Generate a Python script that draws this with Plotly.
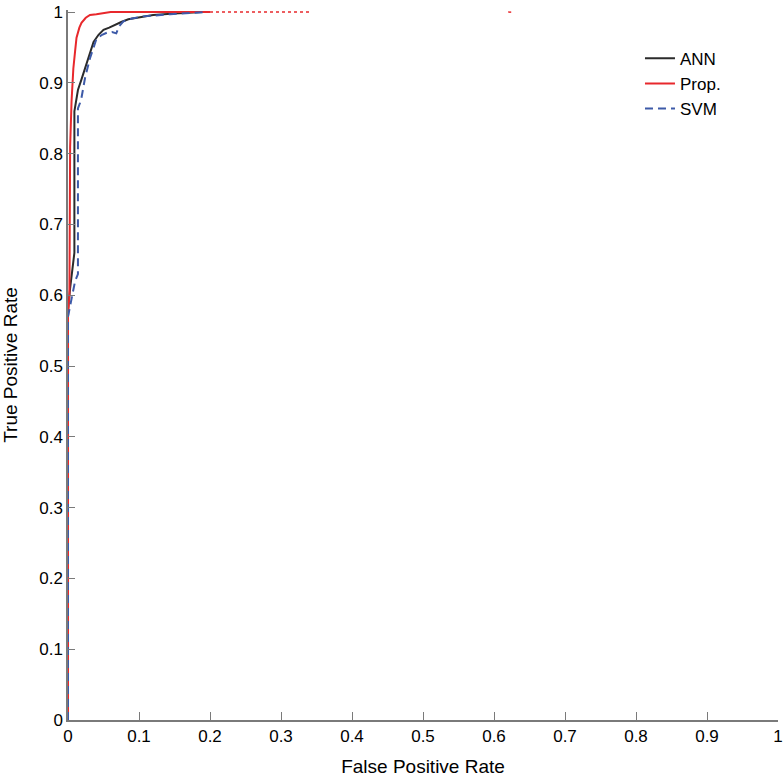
import plotly.graph_objects as go

# ROC curve data
ann_fpr = [0, 0, 0.003, 0.006, 0.009, 0.009, 0.011, 0.014, 0.019, 0.022, 0.027, 0.031, 0.036,
           0.043, 0.05, 0.058, 0.064, 0.075, 0.085, 0.1, 0.12, 0.15, 0.19]
ann_tpr = [0, 0.58, 0.61, 0.635, 0.66, 0.86, 0.875, 0.89, 0.905, 0.915, 0.93, 0.945, 0.958,
           0.968, 0.975, 0.978, 0.981, 0.986, 0.99, 0.993, 0.996, 0.998, 1.0]

prop_fpr = [0, 0, 0.002, 0.002, 0.003, 0.005, 0.0075, 0.01, 0.012, 0.016, 0.019, 0.025,
            0.031, 0.04, 0.05, 0.06, 0.1, 0.2]
prop_tpr = [0, 0.57, 0.6, 0.75, 0.81, 0.874, 0.92, 0.945, 0.964, 0.978, 0.985, 0.992,
            0.996, 0.997, 0.998, 1.0, 1.0, 1.0]
prop_tail_fpr = [0.2, 0.34, None, 0.62, 0.625]
prop_tail_tpr = [1.0, 1.0, None, 1.0, 1.0]

svm_fpr = [0, 0, 0.002, 0.006, 0.01, 0.014, 0.014, 0.017, 0.019, 0.024, 0.031, 0.04, 0.048,
           0.055, 0.062, 0.068, 0.072, 0.078, 0.09, 0.106, 0.125, 0.144, 0.19]
svm_tpr = [0, 0.57, 0.58, 0.6, 0.62, 0.63, 0.864, 0.872, 0.879, 0.907, 0.935, 0.962, 0.968,
           0.971, 0.972, 0.97, 0.98, 0.987, 0.991, 0.994, 0.996, 0.997, 1.0]

tick_vals = [i / 10 for i in range(11)]
tick_text = ["0", "0.1", "0.2", "0.3", "0.4", "0.5", "0.6", "0.7", "0.8", "0.9", "1"]

FONT = "Liberation Sans, Arial, sans-serif"
AXIS_GREY = "#7a7a7a"

fig = go.Figure()
fig.add_trace(go.Scatter(x=ann_fpr, y=ann_tpr, mode="lines", name="ANN",
                         line=dict(color="#2b2b2b", width=2)))
fig.add_trace(go.Scatter(x=prop_fpr, y=prop_tpr, mode="lines", name="Prop.",
                         line=dict(color="#e8282c", width=2)))
fig.add_trace(go.Scatter(x=svm_fpr, y=svm_tpr, mode="lines", name="SVM",
                         line=dict(color="#3d5aa8", width=2, dash="8px,5px")))
fig.add_trace(go.Scatter(x=prop_tail_fpr, y=prop_tail_tpr, mode="lines", showlegend=False,
                         line=dict(color="#e8282c", width=1.5, dash="dot"), hoverinfo="skip"))

fig.update_layout(
    width=783, height=778,
    margin=dict(l=68, r=5, t=10, b=58),
    paper_bgcolor="white", plot_bgcolor="white",
    font=dict(family=FONT, size=17, color="black"),
    legend=dict(x=0.8056, y=0.9566, xanchor="left", yanchor="top", tracegroupgap=0,
                bgcolor="rgba(0,0,0,0)", font=dict(size=17)),
)
fig.update_xaxes(range=[0, 1], tickvals=tick_vals, ticktext=tick_text, automargin=False,
                 ticklabeloverflow="allow",
                 showgrid=False, zeroline=False, showline=True, linecolor=AXIS_GREY,
                 linewidth=1.5, ticks="inside", ticklen=8, tickcolor=AXIS_GREY,
                 tickwidth=1, title=dict(text="False Positive Rate", font=dict(size=19),
                                          standoff=15))
fig.update_yaxes(range=[0, 1.003], tickvals=tick_vals, ticktext=tick_text, automargin=False,
                 ticklabeloverflow="allow",
                 showgrid=False, zeroline=False, showline=True, linecolor=AXIS_GREY,
                 linewidth=1.5, ticks="inside", ticklen=7, tickcolor=AXIS_GREY,
                 tickwidth=1, title=dict(text="True Positive Rate", font=dict(size=19),
                                          standoff=20))

fig.write_html("out.html", config={"displayModeBar": False},
               post_script="document.body.style.margin='0';document.body.style.overflow='hidden';")
